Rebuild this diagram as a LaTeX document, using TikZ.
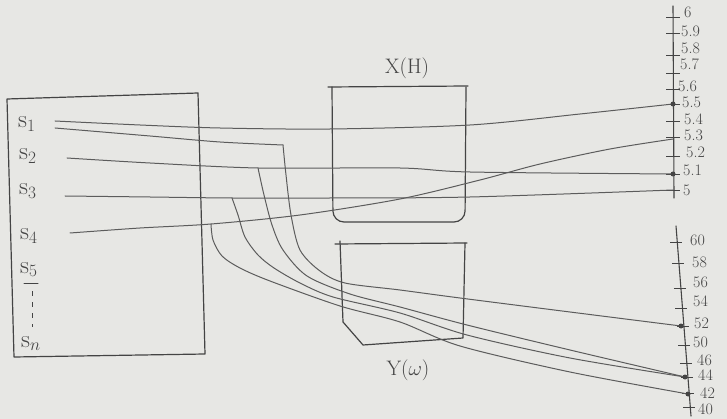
\documentclass[tikz,border=0pt]{standalone}
\usepackage{xcolor}
\definecolor{paper}{RGB}{231,231,228}
\definecolor{pencil}{RGB}{92,92,92}
\definecolor{lead}{RGB}{68,68,68}
\begin{document}
\begin{tikzpicture}[x=1pt,y=-1pt,
  frame/.style={draw=lead, line width=1.2pt, line cap=round, line join=round},
  wire/.style={draw=pencil, line width=1pt, line cap=round},
  axis/.style={draw=lead, line width=1.1pt, line cap=round},
  tickmark/.style={draw=lead, line width=0.9pt},
  varlbl/.style={text=lead, inner sep=0pt, anchor=base west, font=\fontsize{27}{27}\selectfont},
  boxlbl/.style={text=lead, inner sep=0pt, font=\fontsize{21}{21}\selectfont},
  scalelbl/.style={text=lead, inner sep=0pt, anchor=west, font=\fontsize{16}{16}\selectfont},
  dotmark/.style={circle, fill=lead, inner sep=0pt, minimum size=5pt}]
\fill[paper] (0,0) rectangle (727,419);
\useasboundingbox (0,0) rectangle (727,419);

% ---- source box with the variables ----
\draw[frame] (7,99) -- (198,93) -- (205,354) -- (14,357) -- cycle;
\node[varlbl] (v1) at (18,128) {$\mathrm{s}_1$};
\node[varlbl] (v2) at (19,160) {$\mathrm{s}_2$};
\node[varlbl] (v3) at (19,195) {$\mathrm{s}_3$};
\node[varlbl] (v4) at (20,240) {$\mathrm{s}_4$};
\node[varlbl] (v5) at (20,273) {$\mathrm{s}_5$};
\node[varlbl] (vn) at (21,347) {$\mathrm{s}_n$};
% continuation marks between s5 and sn
\draw[frame, line width=1pt] (24,283) -- (38,283);
\draw[draw=lead, line width=1pt, dash pattern=on 5pt off 6pt] (32,291) -- (32,327);

% ---- X(H) box ----
\draw[frame] (328,87) -- (468,86);
\draw[frame, rounded corners=11pt] (332,87) -- (333,222) -- (465,222) -- (466,87);
\node[boxlbl] (xh) at (407,68) {X(H)};

% ---- Y(omega) box ----
\draw[frame] (335,244) -- (467,243);
\draw[frame] (340,241) -- (343,322) -- (363,345) -- (463,338) -- (465,243);
\node[boxlbl] (yw) at (408,370) {Y($\omega$)};

% ---- upper scale (5 ... 6) ----
\draw[axis] (673,6) -- (674,198);
\foreach \ty/\ly/\lx/\txt in {17/12/684/6, 33/31/681/5.9, 55/48/681/5.8, 73/64/680/5.7,
    89/86/678/5.6, 104/102/682/5.5, 121/119/684/5.4, 137/135/684/5.3,
    156/152/686/5.2, 174/170/683/5.1, 190/190/683/5}{
  \draw[tickmark] (666,\ty) -- (680,\ty);
  \node[scalelbl] at (\lx,\ly) {\txt};
}

% ---- lower scale (40 ... 60) ----
\draw[axis] (676,226) -- (691,416);
\foreach \ty/\ly/\lx/\txt in {242/240/690/60, 263/262/692/58, 288/282/693/56, 308/301/693/54,
    326/323/694/52, 345/342/693/50, 363/360/697/46, 377/375/698/44,
    393/393/700/42, 407/409/698/40}{
  \pgfmathsetmacro{\ax}{676+(\ty-226)*15/190}
  \draw[tickmark] (\ax-7,\ty) -- (\ax+5,\ty);
  \node[scalelbl] at (\lx,\ly) {\txt};
}

% ---- wire end points ----
\coordinate (s1a) at (55,121);
\coordinate (s1b) at (55,128);
\coordinate (s2a) at (67,158);
\coordinate (s3a) at (65,196);
\coordinate (s4a) at (70,233);
\coordinate (b1) at (283,145);
\coordinate (b2) at (258,168);
\coordinate (b3) at (232,198);
\coordinate (b4) at (211,224);
\coordinate (t55) at (673,104);
\coordinate (t53) at (673,139);
\coordinate (t51) at (673,174);
\coordinate (t50) at (673,190);
\coordinate (u52) at (681,326);
\coordinate (u44) at (685,377);
\coordinate (u42) at (688,394);

% ---- wires through X(H) to the upper scale ----
\draw[wire] plot[smooth, tension=0.5] coordinates {(s1a) (140,125) (220,128) (330,129) (470,125) (580,114) (t55)};
\draw[wire] plot[smooth, tension=0.5] coordinates {(s2a) (150,163) (b2) (400,168) (470,172) (t51)};
\draw[wire] plot[smooth, tension=0.5] coordinates {(s3a) (150,197) (b3) (330,198) (470,197) (t50)};
\draw[wire] plot[smooth, tension=0.5] coordinates {(s4a) (140,228) (b4) (300,215) (400,199) (480,180) (540,164) (610,149) (t53)};

% ---- wires through Y(omega) to the lower scale ----
\draw[wire] plot[smooth, tension=0.5] coordinates {(s1b) (150,136) (220,142) (b1)};
\draw[wire] plot[smooth, tension=0.5] coordinates {(b1) (286,175) (291,215) (300,250) (320,271) (345,283) (400,290) (460,298) (570,312) (u52)};
\draw[wire] plot[smooth, tension=0.5] coordinates {(b2) (264,195) (272,225) (283,250) (307,276) (350,294) (400,307) (467,325) (570,350) (u44)};
\draw[wire] plot[smooth, tension=0.5] coordinates {(b3) (238,215) (245,237) (258,255) (274,268) (300,283) (333,297) (400,313) (467,335) (570,358) (u44)};
\draw[wire] plot[smooth, tension=0.5] coordinates {(b4) (213,240) (222,256) (240,268) (270,281) (340,306) (400,322) (460,346) (570,372) (u42)};

% ---- marked readings ----
\node[dotmark] at (t55) {};
\node[dotmark] at (t51) {};
\node[dotmark] at (u52) {};
\node[dotmark] at (u44) {};
\node[dotmark] at (u42) {};
\end{tikzpicture}
\end{document}
